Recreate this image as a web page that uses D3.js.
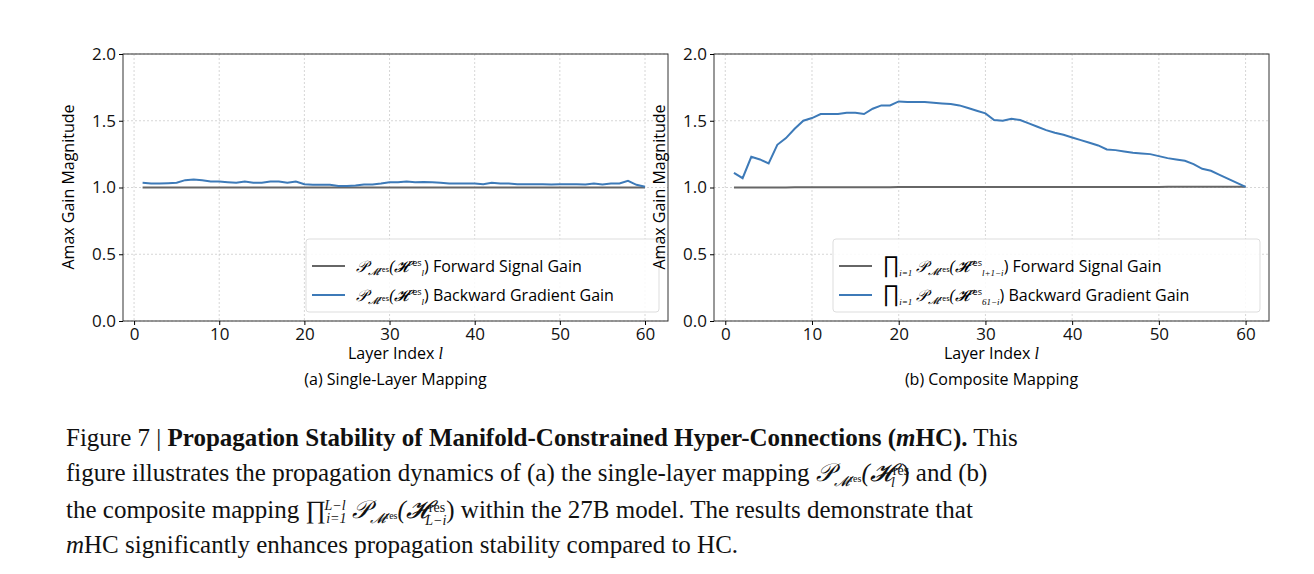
<!DOCTYPE html>
<html><head><meta charset="utf-8">
<script src="https://cdn.jsdelivr.net/npm/d3@7"></script>
<style>
body{margin:0;background:#fff}
text{font-family:"Open Sans",sans-serif}
.cap{font-family:"Liberation Serif",serif;font-size:25px;fill:#111}
.math{font-family:"Liberation Serif",serif;font-style:italic}
</style></head><body>
<svg id="fig" width="1314" height="574"></svg>
<script>
var layers = d3.range(1, 61);
var singleBackward = [1.035,1.03,1.03,1.032,1.035,1.055,1.06,1.055,1.045,1.045,1.04,1.035,1.045,1.035,1.035,1.045,1.045,1.035,1.045,1.025,
  1.02,1.02,1.02,1.012,1.012,1.015,1.022,1.022,1.03,1.04,1.04,1.045,1.04,1.042,1.04,1.035,1.03,1.03,1.03,1.03,
  1.025,1.035,1.03,1.03,1.025,1.025,1.025,1.025,1.022,1.025,1.025,1.025,1.022,1.03,1.022,1.03,1.03,1.05,1.02,1.005];
var singleForward = layers.map(function() { return 1.0; });
var compBackward = [1.11,1.07,1.23,1.21,1.18,1.32,1.37,1.44,1.5,1.52,1.55,1.55,1.55,1.56,1.56,1.55,1.59,1.615,1.615,1.645,
  1.64,1.64,1.64,1.635,1.63,1.625,1.615,1.595,1.575,1.555,1.505,1.5,1.515,1.505,1.48,1.455,1.43,1.41,1.395,1.375,
  1.355,1.335,1.315,1.285,1.28,1.27,1.26,1.255,1.25,1.235,1.22,1.21,1.2,1.175,1.14,1.125,1.095,1.065,1.035,1.005];
var compForward = [1.0,1.0,1.0,1.0,1.0,1.0,1.0,1.001,1.001,1.001,1.001,1.001,1.001,1.002,1.002,1.002,1.002,1.002,1.002,1.003,
  1.003,1.003,1.003,1.003,1.003,1.003,1.003,1.003,1.003,1.003,1.003,1.003,1.003,1.003,1.003,1.003,1.003,1.003,1.003,1.003,
  1.004,1.004,1.004,1.004,1.004,1.004,1.004,1.004,1.004,1.004,1.005,1.005,1.005,1.005,1.005,1.005,1.005,1.005,1.005,1.005];
var xTicks = [0,10,20,30,40,50,60];
var yTicks = [0,0.5,1.0,1.5,2.0];

var svg = d3.select("#fig");

function panel(opts) {
  var g = svg.append("g");
  var x = d3.scaleLinear().domain([-1.3, 62.7]).range([opts.left, opts.right]);
  var y = d3.scaleLinear().domain([0, 2]).range([321, 54]);

  g.selectAll(".gx").data(xTicks).enter().append("line")
    .attr("x1", function(d) { return x(d); }).attr("x2", function(d) { return x(d); })
    .attr("y1", 54).attr("y2", 321)
    .attr("stroke", "#ccc").attr("stroke-dasharray", "2,2").attr("stroke-width", 0.8);
  g.selectAll(".gy").data(yTicks).enter().append("line")
    .attr("x1", opts.left).attr("x2", opts.right)
    .attr("y1", function(d) { return y(d); }).attr("y2", function(d) { return y(d); })
    .attr("stroke", "#ccc").attr("stroke-dasharray", "2,2").attr("stroke-width", 0.8);

  var line = d3.line().x(function(d, i) { return x(layers[i]); }).y(function(d) { return y(d); });
  g.append("path").datum(opts.forward).attr("d", line).attr("fill", "none")
    .attr("stroke", "#666").attr("stroke-width", 2);
  g.append("path").datum(opts.backward).attr("d", line).attr("fill", "none")
    .attr("stroke", "#3d7ab8").attr("stroke-width", 2);

  g.append("rect").attr("x", opts.left).attr("y", 54)
    .attr("width", opts.right - opts.left).attr("height", 267)
    .attr("fill", "none").attr("stroke", "#333").attr("stroke-width", 1);

  var xa = g.append("g").attr("transform", "translate(0,321)")
    .call(d3.axisBottom(x).tickValues(xTicks).tickSize(4).tickPadding(3));
  var ya = g.append("g").attr("transform", "translate(" + opts.left + ",0)")
    .call(d3.axisLeft(y).tickValues(yTicks).tickFormat(d3.format(".1f")).tickSize(4).tickPadding(3));
  [xa, ya].forEach(function(a) {
    a.select(".domain").remove();
    a.selectAll("text").style("font-size", "17px").attr("fill", "#111").style("font-family", "Open Sans");
  });

  g.append("text").attr("transform", "translate(" + (opts.left - 49) + ",187) rotate(-90)")
    .attr("text-anchor", "middle").style("font-size", "16px").text("Amax Gain Magnitude");
  var xl = g.append("text").attr("x", (opts.left + opts.right) / 2).attr("y", 359)
    .attr("text-anchor", "middle").style("font-size", "16px");
  xl.append("tspan").text("Layer Index ");
  xl.append("tspan").attr("class", "math").text("l");
  g.append("text").attr("x", (opts.left + opts.right) / 2).attr("y", 385)
    .attr("text-anchor", "middle").style("font-size", "16px").text(opts.title);

  var lg = g.append("g");
  lg.append("rect").attr("x", opts.legX).attr("y", 239).attr("width", opts.right - 9 - opts.legX)
    .attr("height", 73).attr("rx", 3).attr("fill", "#fff").attr("fill-opacity", 0.85)
    .attr("stroke", "#ddd");
  [["#666", opts.labels[0], 272], ["#3d7ab8", opts.labels[1], 301]].forEach(function(it) {
    lg.append("line").attr("x1", opts.legX + 6).attr("x2", opts.legX + 39)
      .attr("y1", it[2] - 6).attr("y2", it[2] - 6).attr("stroke", it[0]).attr("stroke-width", 2);
    var t = lg.append("text").attr("x", opts.legX + 50).attr("y", it[2]).style("font-size", "16px");
    it[1].forEach(function(p) {
      var s = t.append("tspan").text(p.t);
      if (p.m) s.attr("class", "math");
      if (p.dy) s.attr("dy", p.dy);
      if (p.fs) s.style("font-size", p.fs);
    });
  });
}

function pm(sub) {
  return [{t: "\u{1D4AB}", m: 1}, {t: "\u{1D4DC}", m: 1, dy: 3, fs: "10px"}, {t: "res", dy: -3, fs: "7px"},
          {t: "(\u{1D4D7}", m: 1, dy: 0}, {t: "res", dy: -6, fs: "9px"}, {t: sub, m: 1, dy: 10, fs: "9px"},
          {t: ") ", dy: -4}];
}

panel({left: 123, right: 668, forward: singleForward, backward: singleBackward,
  title: "(a) Single-Layer Mapping", legX: 306,
  labels: [pm("l").concat([{t: "Forward Signal Gain"}]), pm("l").concat([{t: "Backward Gradient Gain"}])]});
panel({left: 714, right: 1269, forward: compForward, backward: compBackward,
  title: "(b) Composite Mapping", legX: 833,
  labels: [[{t: "\u220F", fs: "22px"}, {t: "i=1", m: 1, dy: 4, fs: "9px"}, {t: " ", dy: -4}].concat(pm("l+1\u2212i")).concat([{t: "Forward Signal Gain"}]),
           [{t: "\u220F", fs: "22px"}, {t: "i=1", m: 1, dy: 4, fs: "9px"}, {t: " ", dy: -4}].concat(pm("61\u2212i")).concat([{t: "Backward Gradient Gain"}])]});

var cap = [
  [{t: "Figure 7 | "}, {t: "Propagation Stability of Manifold-Constrained Hyper-Connections (", b: 1}, {t: "m", b: 1, i: 1}, {t: "HC).", b: 1}, {t: " This"}],
  [{t: "figure illustrates the propagation dynamics of (a) the single-layer mapping "}, {t: "\u{1D4AB}", i: 1}, {t: "\u{1D4DC}", i: 1, dy: 5, fs: "14px"}, {t: "res", dy: -4, fs: "10px"}, {t: "(\u{1D4D7}", i: 1, dy: -1}, {t: "res", dy: -6, fs: "14px"}, {t: "l", i: 1, dx: -18, dy: 12, fs: "14px"}, {t: "   ) and (b)", dy: -6}],
  [{t: "the composite mapping \u220F"}, {t: "i=1", i: 1, dy: 5, fs: "14px"}, {t: "L\u2212l", i: 1, dx: -22, dy: -13, fs: "14px"}, {t: " \u{1D4AB}", i: 1, dy: 8}, {t: "\u{1D4DC}", i: 1, dy: 5, fs: "14px"}, {t: "res", dy: -4, fs: "10px"}, {t: "(\u{1D4D7}", i: 1, dy: -1}, {t: "res", dy: -6, fs: "14px"}, {t: "L\u2212i", i: 1, dx: -20, dy: 13, fs: "14px"}, {t: ") within the 27B model. The results demonstrate that", dy: -7}],
  [{t: "m", i: 1}, {t: "HC significantly enhances propagation stability compared to HC."}]
];
var capY = [446, 481, 518, 553];
cap.forEach(function(parts, k) {
  var t = svg.append("text").attr("class", "cap").attr("x", 66).attr("y", capY[k]);
  parts.forEach(function(p) {
    var s = t.append("tspan").text(p.t).style("font-family", "Liberation Serif");
    if (p.b) s.style("font-weight", "bold");
    if (p.i) s.style("font-style", "italic");
    if (p.dy) s.attr("dy", p.dy);
    if (p.dx) s.attr("dx", p.dx);
    if (p.fs) s.style("font-size", p.fs);
  });
});
</script>
</body></html>
